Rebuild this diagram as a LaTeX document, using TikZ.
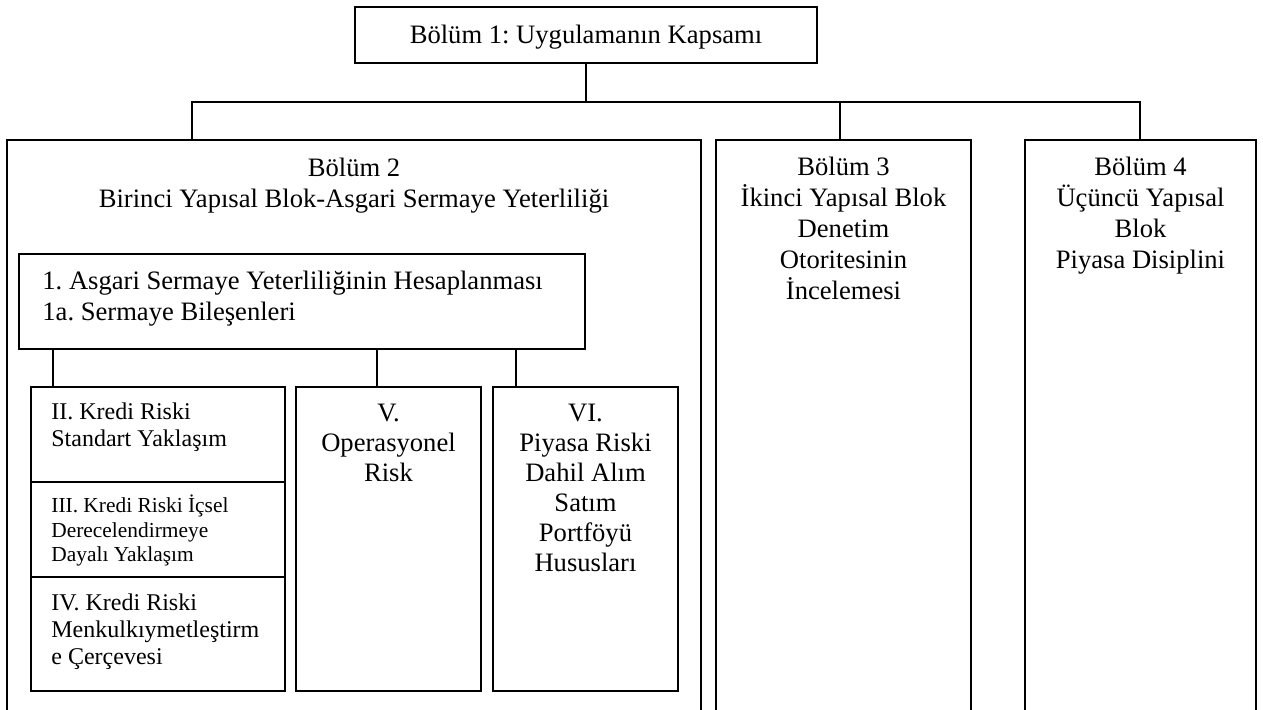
\documentclass[tikz,border=0pt]{standalone}
\usepackage{fontspec}
\setmainfont{Liberation Serif}
\usetikzlibrary{fit}
% invisible strut fixing the height of a node's first line
\newcommand\lnstrut{\rule{0pt}{12pt}}
\begin{document}
\frenchspacing
\begin{tikzpicture}[x=0.5pt,y=-0.5pt,
  box/.style={draw, line width=1pt, inner sep=0pt},
  link/.style={line width=1pt},
  txtc/.style={inner sep=0pt, anchor=north, align=center},
  txtl/.style={inner sep=0pt, anchor=north west, align=left},
  head/.style={font=\fontsize{13.3}{15.5}\selectfont},
  mid/.style={font=\fontsize{13.3}{15}\selectfont},
  small/.style={font=\fontsize{12}{13.5}\selectfont},
  tiny/.style={font=\fontsize{10.7}{12.3}\selectfont}]
\useasboundingbox (0,0) rectangle (1263,709);
\clip (0,0) rectangle (1263,709);

% top level
\node[box, fit={(355,7) (817,63)}] (b1) {};
\node[head, inner sep=0pt, anchor=base] (t1) at (586,43) {Bölüm 1: Uygulamanın Kapsamı};

% the three parts
\node[box, fit={(7,140) (701,740)}] (b2) {};
\node[box, fit={(716,140) (971,740)}] (b3) {};
\node[box, fit={(1025,140) (1256,740)}] (b4) {};
\node[txtc, head] (t2) at (354,152) {\lnstrut Bölüm 2\\Birinci Yapısal Blok-Asgari Sermaye Yeterliliği};
\node[txtc, head] (t3) at (843.5,151) {\lnstrut Bölüm 3\\İkinci Yapısal Blok\\Denetim\\Otoritesinin\\İncelemesi};
\node[txtc, head] (t4) at (1140.5,151) {\lnstrut Bölüm 4\\Üçüncü Yapısal\\Blok\\Piyasa Disiplini};

% bus from the top box
\coordinate (bus) at (586,102);
\coordinate (d2) at (192,140);
\coordinate (d3) at (840,140);
\coordinate (d4) at (1140,140);
\draw[link] (b1.south) -- (bus);
\draw[link] (d2) |- (d4 |- bus) -- (d4);
\draw[link] (d3) -- (d3 |- bus);

% first pillar
\node[box, fit={(19,254) (585,349)}] (b5) {};
\node[txtl, head] (t5) at (42,265) {\lnstrut 1. Asgari Sermaye Yeterliliğinin Hesaplanması\\1a. Sermaye Bileşenleri};

\node[box, fit={(31,387) (285,482)}] (a1) {};
\node[box, fit={(31,482) (285,577)}] (a2) {};
\node[box, fit={(31,577) (285,691)}] (a3) {};
\node[box, fit={(296,387) (481,691)}] (b6) {};
\node[box, fit={(493,387) (678,691)}] (b7) {};

\node[txtl, small] (ta1) at (51,395) {\lnstrut II. Kredi Riski\\Standart Yaklaşım};
\node[txtl, tiny] (ta2) at (51,488) {\lnstrut III. Kredi Riski İçsel\\Derecelendirmeye\\Dayalı Yaklaşım};
\node[txtl, small] (ta3) at (51,586) {\lnstrut IV. Kredi Riski\\Menkulkıymetleştirm\\e Çerçevesi};
\node[txtc, mid] (t6) at (388.5,397) {\lnstrut V.\\Operasyonel\\Risk};
\node[txtc, mid] (t7) at (585.5,397) {\lnstrut VI.\\Piyasa Riski\\Dahil Alım\\Satım\\Portföyü\\Hususları};

\coordinate (c1) at (53,387);
\coordinate (c2) at (377,387);
\coordinate (c3) at (516,387);
\draw[link] (c1) -- (c1 |- b5.south);
\draw[link] (c2) -- (c2 |- b5.south);
\draw[link] (c3) -- (c3 |- b5.south);
\end{tikzpicture}
\end{document}
